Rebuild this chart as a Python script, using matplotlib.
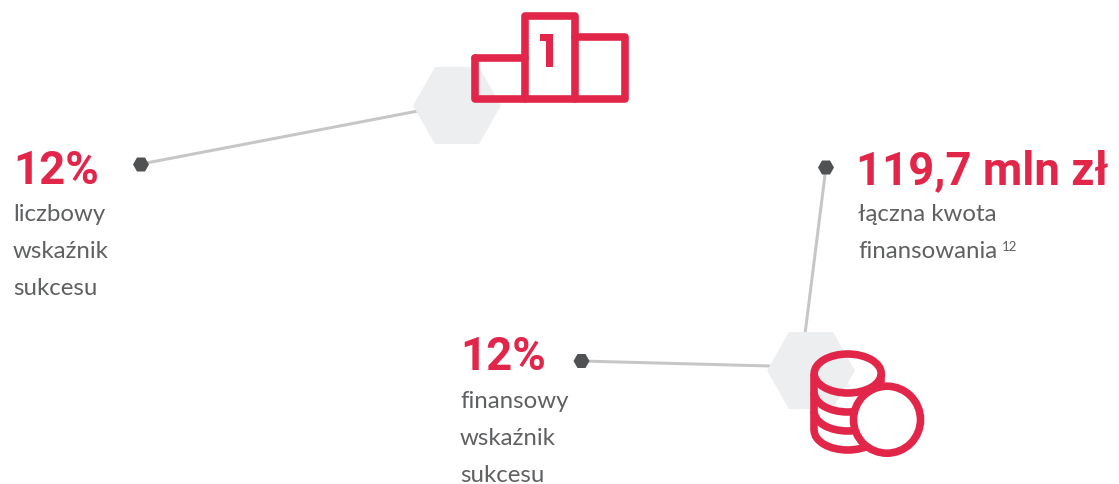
import matplotlib
matplotlib.use("Agg")
import matplotlib.pyplot as plt
from matplotlib.patches import Polygon, Arc, Ellipse, Circle

# Content
headlines = ["12%", "12%", "119,7 mln zł"]
captions = [["liczbowy", "wskaźnik", "sukcesu"],
            ["finansowy", "wskaźnik", "sukcesu"],
            ["łączna kwota", "finansowania"]]
footnote = "12"

RED = "#e2264a"; GREY = "#5f6062"; HEX = "#edeef0"; LINE = "#c6c6c6"; DOT = "#505153"
HEAD_FONT = "Roboto"
BODY_FONT = "Lato"

fig = plt.figure(figsize=(11.19, 4.84), dpi=100, facecolor="white")
ax = fig.add_axes([0, 0, 1, 1])
ax.set_xlim(0, 1119); ax.set_ylim(484, 0); ax.axis("off")

def hexagon(cx, cy, w, h, color, z):
    q = w / 4
    pts = [(cx - 2*q, cy), (cx - q, cy - h/2), (cx + q, cy - h/2),
           (cx + 2*q, cy), (cx + q, cy + h/2), (cx - q, cy + h/2)]
    ax.add_patch(Polygon(pts, closed=True, fc=color, ec="none", zorder=z))

# Connectors
lw = 3 * 72 / 100
for (x0, y0, x1, y1) in [(141, 164, 418, 111), (581, 361, 770, 366), (826, 167, 805, 334)]:
    ax.plot([x0, x1], [y0, y1], color=LINE, lw=lw, zorder=1, solid_capstyle="butt")

# Hexagons
hexagon(457, 105.5, 88, 77, HEX, 2)
hexagon(811, 370.5, 88, 77, HEX, 2)
for c in [(141, 164.5), (581.5, 361), (826, 167.5)]:
    hexagon(c[0], c[1], 16, 14, DOT, 3)

# Podium icon
st = 7.6 * 72 / 100
podium = [[(474.5, 58), (524.5, 58)],
          [(524.5, 98.5), (524.5, 15.5), (574.5, 15.5), (574.5, 98.5)],
          [(574.5, 37), (624.5, 37), (624.5, 98.5), (474.5, 98.5), (474.5, 58)]]
for seg in podium:
    xs, ys = zip(*seg)
    ax.plot(xs, ys, color=RED, lw=st, zorder=4, solid_joinstyle="round", solid_capstyle="round")
ax.add_patch(Polygon([(540, 34), (553, 34), (553, 67), (546, 67), (546, 41), (540, 41)],
                     closed=True, fc=RED, ec="none", zorder=4))

# Coins icon
ccx, ew, eh = 847.7, 67, 39
for cy in (392.5, 411.5, 430.5):
    ax.add_patch(Arc((ccx, cy), ew, eh, theta1=0, theta2=180, color=RED, lw=st, zorder=4))
ax.plot([ccx - ew/2, ccx - ew/2], [373.5, 431], color=RED, lw=st, zorder=4, solid_capstyle="butt")
ax.plot([ccx + ew/2, ccx + ew/2], [373.5, 395], color=RED, lw=st, zorder=4, solid_capstyle="butt")
ax.add_patch(Ellipse((ccx, 373.5), ew, eh, fc="none", ec=RED, lw=st, zorder=4))
ax.add_patch(Circle((887, 419.7), 33.5, fc="white", ec=RED, lw=st, zorder=5))

# Text
head_pos = [(13, 184), (460, 370), (855.5, 184)]
cap_pos = [(13, 221), (460, 408), (858, 221)]
for h, (x, y) in zip(headlines, head_pos):
    ax.text(x, y, h, color=RED, fontsize=32.8, fontweight="bold", family=HEAD_FONT, va="baseline", ha="left", zorder=6)
for lines, (x, y) in zip(captions, cap_pos):
    for i, s in enumerate(lines):
        ax.text(x, y + 37*i, s, color=GREY, fontsize=17.3, family=BODY_FONT, va="baseline", ha="left", zorder=6)
ax.text(1002, 251, footnote, color=GREY, fontsize=9.5, family=BODY_FONT, va="baseline", ha="left", zorder=6)

fig.savefig("out.png", dpi=100, facecolor="white")
